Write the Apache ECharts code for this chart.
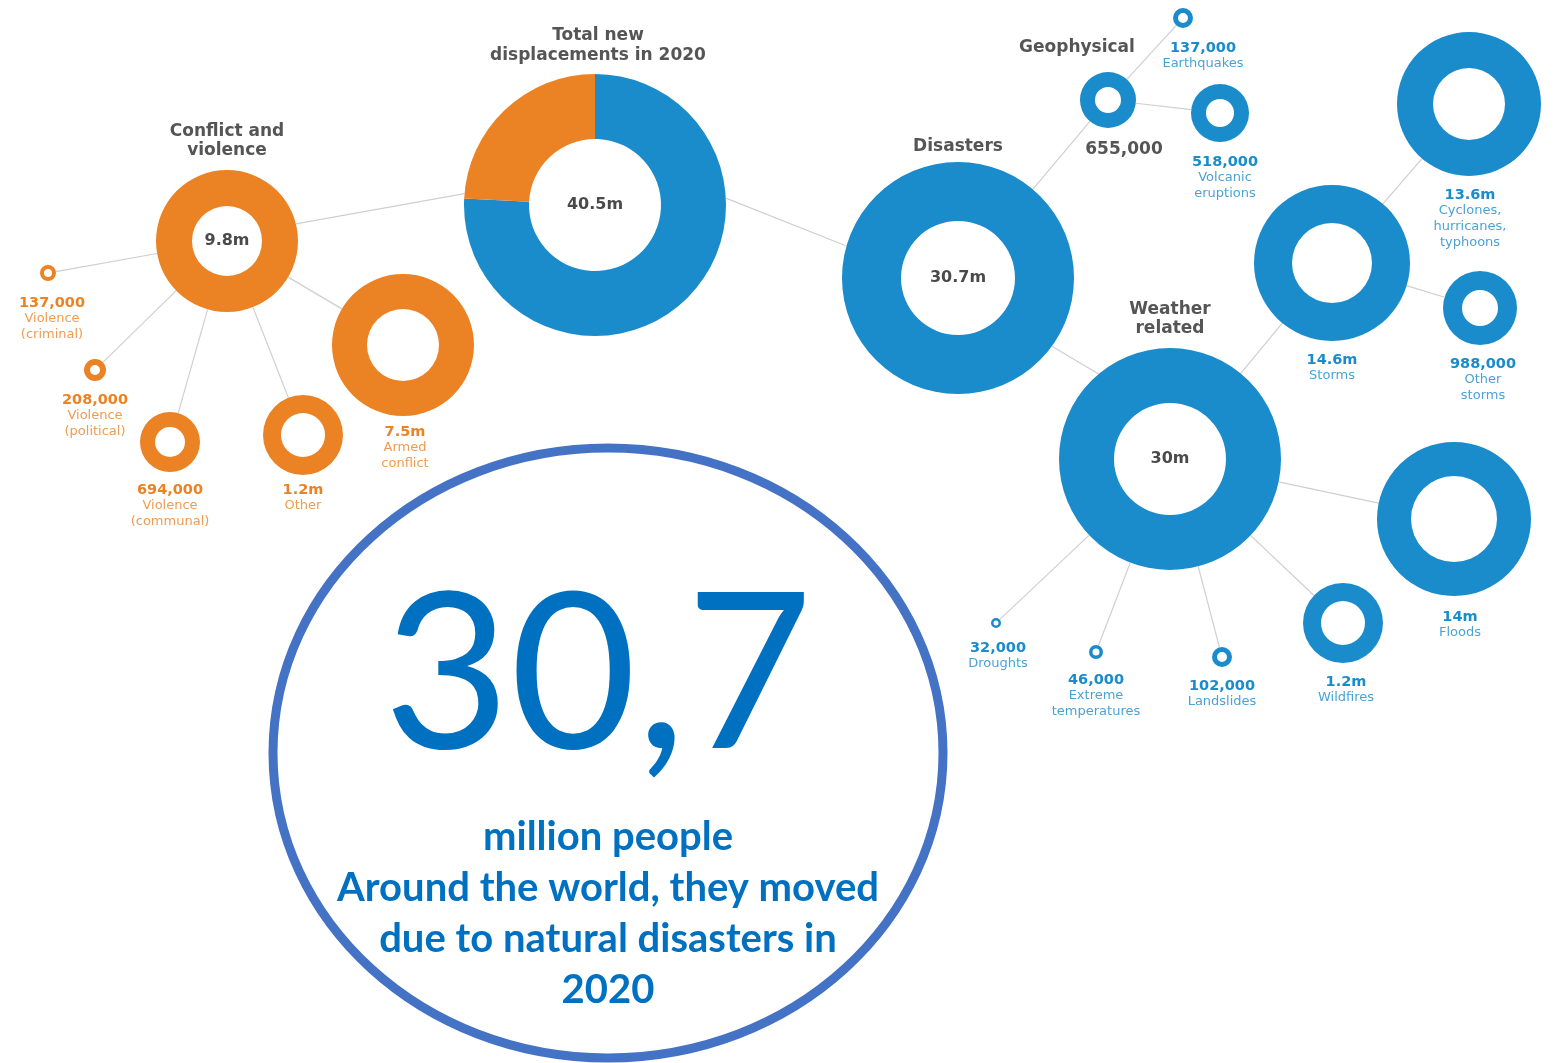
<!DOCTYPE html>
<html>
<head>
<meta charset="utf-8">
<title>New displacements in 2020</title>
<script src="https://cdn.jsdelivr.net/npm/echarts@6/dist/echarts.min.js"></script>
<style>
  html, body { margin: 0; padding: 0; background: #fff; }
  #main { width: 1555px; height: 1063px; }
</style>
</head>
<body>
<div id="main"></div>
<script>
// new displacements in 2020, millions of people
const nodeNames = [
  'Total', 'Conflict and violence', 'Disasters',
  'Violence (criminal)', 'Violence (political)', 'Violence (communal)', 'Other', 'Armed conflict',
  'Geophysical', 'Earthquakes', 'Volcanic eruptions',
  'Weather related', 'Storms', 'Cyclones, hurricanes, typhoons', 'Other storms',
  'Floods', 'Wildfires', 'Landslides', 'Extreme temperatures', 'Droughts'
];
const nodeValues = [
  40.5, 9.8, 30.7,
  0.137, 0.208, 0.694, 1.2, 7.5,
  0.655, 0.137, 0.518,
  30, 14.6, 13.6, 0.988,
  14, 1.2, 0.102, 0.046, 0.032
];
const valueLabels = [
  '40.5m', '9.8m', '30.7m',
  '137,000', '208,000', '694,000', '1.2m', '7.5m',
  '655,000', '137,000', '518,000',
  '30m', '14.6m', '13.6m', '988,000',
  '14m', '1.2m', '102,000', '46,000', '32,000'
];
const nodeCaptions = [
  '', '', '',
  'Violence\n(criminal)', 'Violence\n(political)', 'Violence\n(communal)', 'Other', 'Armed\nconflict',
  '', 'Earthquakes', 'Volcanic\neruptions',
  '', 'Storms', 'Cyclones,\nhurricanes,\ntyphoons', 'Other\nstorms',
  'Floods', 'Wildfires', 'Landslides', 'Extreme\ntemperatures', 'Droughts'
];
const nodeGroups = [
  'total', 'conflict', 'disaster',
  'conflict', 'conflict', 'conflict', 'conflict', 'conflict',
  'disaster', 'disaster', 'disaster',
  'disaster', 'disaster', 'disaster', 'disaster',
  'disaster', 'disaster', 'disaster', 'disaster', 'disaster'
];
const totalParts = ['Disasters', 'Conflict and violence'];
const links = [
  ['Total', 'Conflict and violence'], ['Total', 'Disasters'],
  ['Conflict and violence', 'Violence (criminal)'], ['Conflict and violence', 'Violence (political)'],
  ['Conflict and violence', 'Violence (communal)'], ['Conflict and violence', 'Other'],
  ['Conflict and violence', 'Armed conflict'],
  ['Disasters', 'Geophysical'], ['Disasters', 'Weather related'],
  ['Geophysical', 'Earthquakes'], ['Geophysical', 'Volcanic eruptions'],
  ['Weather related', 'Storms'], ['Storms', 'Cyclones, hurricanes, typhoons'], ['Storms', 'Other storms'],
  ['Weather related', 'Floods'], ['Weather related', 'Wildfires'], ['Weather related', 'Landslides'],
  ['Weather related', 'Extreme temperatures'], ['Weather related', 'Droughts']
];
const headings = ['Total new\ndisplacements in 2020', 'Conflict and\nviolence', 'Disasters', 'Geophysical', 'Weather\nrelated'];
const calloutLines = ['million people', 'Around the world, they moved', 'due to natural disasters in', '2020'];

// ---- layout (pixels) ----
const ORANGE = '#EB8224';
const BLUE = '#1A8BCB';
const layout = {
  'Total':                          {c: [595, 205], r: [66, 131], lbl: 'center'},
  'Conflict and violence':          {c: [227, 241], r: [35, 71], lbl: 'center'},
  'Disasters':                      {c: [958, 278], r: [57, 116], lbl: 'center'},
  'Violence (criminal)':            {c: [48, 273], r: [4, 8], lbl: [52, 303]},
  'Violence (political)':           {c: [95, 370], r: [5, 11], lbl: [95, 400]},
  'Violence (communal)':            {c: [170, 442], r: [15, 30], lbl: [170, 490]},
  'Other':                          {c: [303, 435], r: [22, 40], lbl: [303, 490]},
  'Armed conflict':                 {c: [403, 345], r: [36, 71], lbl: [405, 432]},
  'Geophysical':                    {c: [1108, 100], r: [13, 28], lbl: [1124, 150], gray: true},
  'Earthquakes':                    {c: [1183, 18], r: [5, 10], lbl: [1203, 48]},
  'Volcanic eruptions':             {c: [1220, 113], r: [14, 29], lbl: [1225, 162]},
  'Weather related':                {c: [1170, 459], r: [56, 111], lbl: 'center'},
  'Storms':                         {c: [1332, 263], r: [40, 78], lbl: [1332, 360]},
  'Cyclones, hurricanes, typhoons': {c: [1469, 104], r: [36, 72], lbl: [1470, 195]},
  'Other storms':                   {c: [1480, 308], r: [18, 37], lbl: [1483, 364]},
  'Floods':                         {c: [1454, 519], r: [43, 77], lbl: [1460, 617]},
  'Wildfires':                      {c: [1343, 623], r: [22, 40], lbl: [1346, 682]},
  'Landslides':                     {c: [1222, 657], r: [5, 10], lbl: [1222, 686]},
  'Extreme temperatures':           {c: [1096, 652], r: [3.5, 7], lbl: [1096, 680]},
  'Droughts':                       {c: [996, 623], r: [2.5, 5], lbl: [998, 648]}
};
// connector end angles (deg, screen) where the line does not run centre to centre
const linkAngles = {
  'Total>Conflict and violence': [185, -14],
  'Total>Disasters': [-3, 196],
  'Disasters>Weather related': [36, 230]
};
const headingPos = [[598, 26, 20], [227, 122, 19], [958, 137, 19], [1077, 38, 19], [1170, 300, 19]];

const chart = echarts.init(document.getElementById('main'));

function colorOf(i) {
  return nodeGroups[i] === 'conflict' ? ORANGE : BLUE;
}

// donuts
const series = [];
nodeNames.forEach((name, i) => {
  const L = layout[name];
  let data;
  if (nodeGroups[i] === 'total') {
    data = totalParts.map((p, k) => {
      const j = nodeNames.indexOf(p);
      return {name: p, value: nodeValues[j], itemStyle: {color: colorOf(j)}, label: {show: k === 0}};
    });
  } else {
    data = [{name: name, value: nodeValues[i], itemStyle: {color: colorOf(i)}}];
  }
  series.push({
    type: 'pie',
    name: name,
    center: L.c,
    radius: L.r,
    startAngle: 90,
    clockwise: true,
    silent: true,
    animation: false,
    z: 3,
    itemStyle: {borderWidth: 0},
    emphasis: {disabled: true},
    labelLine: {show: false},
    label: L.lbl === 'center'
      ? {show: true, position: 'center', formatter: valueLabels[i], color: '#4a4a4a',
         fontFamily: 'DejaVu Sans', fontWeight: 'bold', fontSize: 16}
      : {show: false},
    data: data
  });
});

// connectors, from ring edge to ring edge
const linkData = links.map(([a, b]) => {
  const A = layout[a], B = layout[b];
  const ang = linkAngles[a + '>' + b];
  const base = Math.atan2(B.c[1] - A.c[1], B.c[0] - A.c[0]);
  const ta = ang ? ang[0] * Math.PI / 180 : base;
  const tb = ang ? ang[1] * Math.PI / 180 : base + Math.PI;
  return {coords: [
    [A.c[0] + A.r[1] * Math.cos(ta), A.c[1] + A.r[1] * Math.sin(ta)],
    [B.c[0] + B.r[1] * Math.cos(tb), B.c[1] + B.r[1] * Math.sin(tb)]
  ]};
});
series.push({
  type: 'lines',
  coordinateSystem: 'cartesian2d',
  silent: true,
  animation: false,
  z: 1,
  lineStyle: {color: '#cfcfcf', width: 1.2, opacity: 1},
  data: linkData
});

// text
const graphics = [];
graphics.push({
  type: 'ellipse', z: 5,
  shape: {cx: 608, cy: 753, rx: 335, ry: 305},
  style: {fill: '#fff', stroke: '#4472C4', lineWidth: 9}
});

nodeNames.forEach((name, i) => {
  const L = layout[name];
  if (!Array.isArray(L.lbl)) return;
  const col = colorOf(i);
  const capLines = nodeCaptions[i] ? nodeCaptions[i].split('\n') : [];
  const text = ['{v|' + valueLabels[i] + '}'].concat(capLines.map(s => '{d|' + s + '}')).join('\n');
  graphics.push({
    type: 'text', z: 6, x: L.lbl[0], y: L.lbl[1] - 8,
    style: {
      text: text, align: 'center', verticalAlign: 'top',
      rich: {
        v: L.gray
          ? {fontFamily: 'DejaVu Sans', fontWeight: 'bold', fontSize: 17, fill: '#555', lineHeight: 16, align: 'center'}
          : {fontFamily: 'DejaVu Sans', fontWeight: 'bold', fontSize: 14.5, fill: col, lineHeight: 16, align: 'center'},
        d: {fontFamily: 'DejaVu Sans', fontSize: 13, fill: col, opacity: 0.8, lineHeight: 16, align: 'center'}
      }
    }
  });
});

headings.forEach((h, k) => {
  graphics.push({
    type: 'text', z: 6, x: headingPos[k][0], y: headingPos[k][1],
    style: {
      text: h, align: 'center', verticalAlign: 'top',
      font: 'bold 17px "DejaVu Sans"', fill: '#555', lineHeight: headingPos[k][2]
    }
  });
});

const disasterTotal = nodeValues[nodeNames.indexOf('Disasters')];
graphics.push({
  type: 'text', z: 6, x: 598, y: 678,
  style: {
    text: String(disasterTotal).replace('.', ','),
    align: 'center', verticalAlign: 'middle',
    font: '218px Lato', fill: '#0070C0'
  }
});
graphics.push({
  type: 'text', z: 6, x: 608, y: 812,
  style: {
    text: calloutLines.join('\n'),
    align: 'center', verticalAlign: 'top',
    font: 'bold 40px Lato', fill: '#0070C0', lineHeight: 51
  }
});

chart.setOption({
  animation: false,
  backgroundColor: '#fff',
  grid: {left: 0, right: 0, top: 0, bottom: 0},
  xAxis: {type: 'value', min: 0, max: 1555, show: false},
  yAxis: {type: 'value', min: 0, max: 1063, inverse: true, show: false},
  series: series,
  graphic: graphics
});
</script>
</body>
</html>
